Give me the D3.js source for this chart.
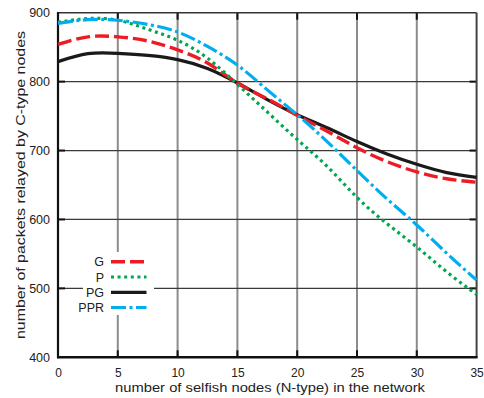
<!DOCTYPE html>
<html>
<head>
<meta charset="utf-8">
<script src="https://cdn.jsdelivr.net/npm/d3@7"></script>
<style>
  body { margin: 0; background: #fff; }
  text { font-family: "Liberation Sans", Arial, Helvetica, sans-serif; fill: #222; }
</style>
</head>
<body>
<svg id="chart" width="484" height="398"></svg>
<script>
// Number of selfish (N-type) nodes
const selfishNodes = [0, 2.5, 5, 7.5, 10, 12.5, 15, 17.5, 20, 22.5, 25, 27.5, 30, 32.5, 35];

// Packets relayed by C-type nodes, per strategy
const seriesG   = [854, 865, 865, 859, 846, 827, 798, 775, 751, 728, 704, 684, 669, 659, 654];
const seriesP   = [886, 891.5, 889, 876, 860, 834, 796, 756, 716, 677, 632, 594, 560, 524, 491];
const seriesPG  = [829, 840.5, 841, 838, 832, 819, 798, 774, 752, 733, 713, 695, 680, 668, 661];
const seriesPPR = [884.5, 890, 889, 883, 872, 851, 824, 788, 752, 713, 671, 630, 592, 551, 512];

const xTicks = [0, 5, 10, 15, 20, 25, 30, 35];
const yTicks = [400, 500, 600, 700, 800, 900];
const seriesNames = ["G", "P", "PG", "PPR"];

const styles = {
  G:   { color: "#ed1c24", width: 3.4, dash: "14,5" },
  P:   { color: "#00a651", width: 3.2, dash: "3,3.6" },
  PG:  { color: "#1a1a1a", width: 3.2, dash: null },
  PPR: { color: "#00aeef", width: 3.2, dash: "15,3.5,3,3.5" }
};

const svg = d3.select("#chart");
const plotLeft = 58, plotRight = 476.6, plotTop = 12.7, plotBottom = 357.3;

const x = d3.scaleLinear().domain([0, 35]).range([plotLeft, plotRight]);
const y = d3.scaleLinear().domain([400, 900]).range([plotBottom, plotTop]);

// grid
const grid = svg.append("g");
grid.selectAll("line.vg").data(xTicks.slice(1, -1)).join("line")
  .attr("x1", d => x(d)).attr("x2", d => x(d))
  .attr("y1", plotTop).attr("y2", plotBottom)
  .attr("stroke", "#8c8c8c").attr("stroke-width", 2);
grid.selectAll("line.hg").data(yTicks.slice(1, -1)).join("line")
  .attr("x1", plotLeft).attr("x2", plotRight)
  .attr("y1", d => y(d)).attr("y2", d => y(d))
  .attr("stroke", "#3a3a3a").attr("stroke-width", 1.3);

// inner tick marks on all four sides
const tk = 7;
const ticks = svg.append("g").attr("stroke", "#111").attr("stroke-width", 2);
xTicks.slice(1, -1).forEach(d => {
  ticks.append("line").attr("x1", x(d)).attr("x2", x(d)).attr("y1", plotBottom).attr("y2", plotBottom - tk);
  ticks.append("line").attr("x1", x(d)).attr("x2", x(d)).attr("y1", plotTop).attr("y2", plotTop + tk);
});
yTicks.slice(1, -1).forEach(d => {
  ticks.append("line").attr("x1", plotLeft).attr("x2", plotLeft + tk).attr("y1", y(d)).attr("y2", y(d));
  ticks.append("line").attr("x1", plotRight).attr("x2", plotRight - tk).attr("y1", y(d)).attr("y2", y(d));
});

// frame
svg.append("line").attr("x1", plotLeft).attr("x2", plotRight).attr("y1", plotTop).attr("y2", plotTop)
  .attr("stroke", "#333").attr("stroke-width", 1.5);
svg.append("line").attr("x1", plotRight).attr("x2", plotRight).attr("y1", plotTop).attr("y2", plotBottom)
  .attr("stroke", "#444").attr("stroke-width", 2);
svg.append("line").attr("x1", plotLeft).attr("x2", plotLeft).attr("y1", plotTop - 0.7).attr("y2", plotBottom + 1)
  .attr("stroke", "#111").attr("stroke-width", 2.2);
svg.append("line").attr("x1", plotLeft - 1).attr("x2", plotRight + 1).attr("y1", plotBottom).attr("y2", plotBottom)
  .attr("stroke", "#111").attr("stroke-width", 2.4);

// axis tick labels
const xAxis = d3.axisBottom(x).tickValues(xTicks).tickSize(0).tickPadding(11.2).tickFormat(d3.format("d"));
const gx = svg.append("g").attr("transform", `translate(0,${plotBottom})`).call(xAxis);
gx.select(".domain").remove();
gx.selectAll("text").style("font-size", "12px").style("font-family", "Liberation Sans, Arial, sans-serif").attr("fill", "#222");

const yAxis = d3.axisLeft(y).tickValues(yTicks).tickSize(0).tickPadding(8).tickFormat(d3.format("d"));
const gy = svg.append("g").attr("transform", `translate(${plotLeft},0)`).call(yAxis);
gy.select(".domain").remove();
gy.selectAll("text").style("font-size", "12.5px").style("font-family", "Liberation Sans, Arial, sans-serif").attr("fill", "#222");

// axis titles
svg.append("text")
  .attr("x", 270).attr("y", 391.5)
  .attr("text-anchor", "middle").style("font-size", "13px")
  .attr("textLength", 310).attr("lengthAdjust", "spacingAndGlyphs")
  .text("number of selfish nodes (N-type) in the network");

svg.append("text")
  .attr("transform", `translate(24.5,${(plotTop + plotBottom) / 2}) rotate(-90)`)
  .attr("text-anchor", "middle").style("font-size", "13px")
  .attr("textLength", 308).attr("lengthAdjust", "spacingAndGlyphs")
  .text("number of packets relayed by C-type nodes");

// curves
const dataBySeries = { G: seriesG, P: seriesP, PG: seriesPG, PPR: seriesPPR };
const line = d3.line().x(d => x(d[0])).y(d => y(d[1])).curve(d3.curveNatural);
["PG", "G", "P", "PPR"].forEach(name => {
  const s = styles[name];
  const pts = selfishNodes.map((v, i) => [v, dataBySeries[name][i]]);
  svg.append("path").datum(pts)
    .attr("d", line)
    .attr("fill", "none")
    .attr("stroke", s.color)
    .attr("stroke-width", s.width)
    .attr("stroke-dasharray", s.dash);
});

// legend
const legend = svg.append("g");
legend.append("rect").attr("x", 83).attr("y", 252).attr("width", 71).attr("height", 63).attr("fill", "#fff");
const legY = [261.7, 277, 292.3, 307.5];
seriesNames.forEach((name, i) => {
  const s = styles[name];
  legend.append("text").attr("x", 104).attr("y", legY[i] + 4.5)
    .attr("text-anchor", "end").style("font-size", "12.5px").text(name);
  legend.append("line").attr("x1", 111).attr("x2", 146.5).attr("y1", legY[i]).attr("y2", legY[i])
    .attr("stroke", s.color).attr("stroke-width", s.width).attr("stroke-dasharray", s.dash);
});
</script>
</body>
</html>
